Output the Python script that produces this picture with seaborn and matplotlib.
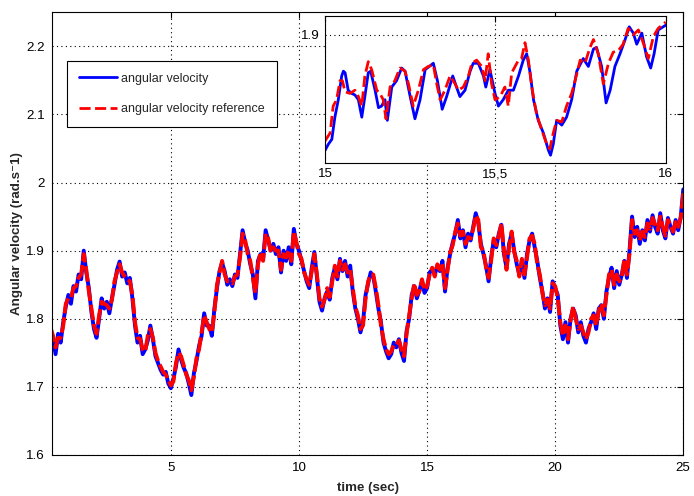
import numpy as np
import matplotlib
matplotlib.use("Agg")
import matplotlib.pyplot as plt
import seaborn as sns

# main signal, sampled every 0.1 s starting at 0.3 s
t_start = 0.3
t_step = 0.1
velocity = [
    1.785, 1.772, 1.748, 1.778, 1.765, 1.795, 1.818,
    1.835, 1.822, 1.848, 1.84, 1.865, 1.858, 1.9, 1.868, 1.845, 1.81,
    1.785, 1.772, 1.8, 1.83, 1.815, 1.825, 1.808, 1.83, 1.85, 1.872,
    1.884, 1.862, 1.868, 1.852, 1.86, 1.83, 1.79, 1.765, 1.775, 1.748,
    1.755, 1.768, 1.79, 1.77, 1.745, 1.735, 1.725, 1.718, 1.722, 1.705,
    1.698, 1.712, 1.73, 1.755, 1.74, 1.728, 1.72, 1.705, 1.688, 1.72,
    1.738, 1.76, 1.775, 1.808, 1.79, 1.79, 1.775, 1.815, 1.845, 1.87,
    1.882, 1.87, 1.85, 1.858, 1.848, 1.865, 1.86, 1.895, 1.93, 1.912,
    1.9, 1.88, 1.865, 1.83, 1.885, 1.895, 1.888, 1.93, 1.915, 1.9,
    1.91, 1.895, 1.905, 1.868, 1.9, 1.885, 1.905, 1.88, 1.932, 1.91,
    1.9, 1.885, 1.87, 1.855, 1.845, 1.875, 1.898, 1.862, 1.825, 1.812,
    1.83, 1.84, 1.828, 1.86, 1.875, 1.858, 1.888, 1.87, 1.885, 1.862,
    1.878, 1.84, 1.815, 1.8, 1.78, 1.795, 1.835, 1.852, 1.868, 1.862,
    1.84, 1.815, 1.795, 1.765, 1.752, 1.742, 1.748, 1.765, 1.758, 1.77,
    1.75, 1.738, 1.782, 1.8, 1.835, 1.848, 1.83, 1.842, 1.855, 1.838,
    1.845, 1.868, 1.872, 1.865, 1.878, 1.87, 1.885, 1.84, 1.875, 1.895,
    1.912, 1.925, 1.945, 1.918, 1.93, 1.905, 1.925, 1.915, 1.935, 1.955,
    1.94, 1.91, 1.895, 1.878, 1.855, 1.89, 1.915, 1.905, 1.925, 1.938,
    1.895, 1.875, 1.91, 1.925, 1.9, 1.88, 1.865, 1.885, 1.86, 1.895,
    1.915, 1.925, 1.905, 1.885, 1.86, 1.84, 1.815, 1.83, 1.81, 1.855,
    1.845, 1.835, 1.79, 1.77, 1.795, 1.765, 1.8, 1.815, 1.805, 1.78,
    1.795, 1.775, 1.765, 1.785, 1.795, 1.808, 1.785, 1.815, 1.82, 1.8,
    1.84, 1.86, 1.875, 1.845, 1.87, 1.85, 1.865, 1.885, 1.86, 1.9,
    1.95, 1.92, 1.935, 1.91, 1.93, 1.915, 1.945, 1.928, 1.952, 1.935,
    1.925, 1.955, 1.93, 1.918, 1.948, 1.935, 1.925, 1.945, 1.93, 1.95,
    1.99,
]
reference = [
    1.788, 1.775, 1.758, 1.772, 1.772, 1.79, 1.822,
    1.83, 1.83, 1.845, 1.848, 1.86, 1.865, 1.895, 1.872, 1.84, 1.815,
    1.79, 1.778, 1.805, 1.825, 1.822, 1.82, 1.815, 1.828, 1.855, 1.868,
    1.88, 1.868, 1.862, 1.858, 1.855, 1.835, 1.795, 1.772, 1.77, 1.755,
    1.752, 1.775, 1.785, 1.772, 1.75, 1.738, 1.73, 1.722, 1.718, 1.71,
    1.702, 1.708, 1.735, 1.75, 1.745, 1.732, 1.718, 1.71, 1.695, 1.715,
    1.742, 1.755, 1.78, 1.805, 1.795, 1.785, 1.78, 1.81, 1.85, 1.868,
    1.885, 1.865, 1.855, 1.855, 1.852, 1.862, 1.865, 1.89, 1.925, 1.915,
    1.895, 1.885, 1.86, 1.838, 1.88, 1.898, 1.885, 1.925, 1.918, 1.898,
    1.905, 1.9, 1.9, 1.872, 1.895, 1.89, 1.9, 1.885, 1.928, 1.912,
    1.895, 1.888, 1.868, 1.858, 1.85, 1.87, 1.895, 1.865, 1.83, 1.818,
    1.828, 1.845, 1.832, 1.855, 1.878, 1.862, 1.885, 1.872, 1.88, 1.868,
    1.872, 1.845, 1.818, 1.805, 1.785, 1.79, 1.83, 1.855, 1.865, 1.865,
    1.845, 1.82, 1.79, 1.77, 1.755, 1.748, 1.752, 1.762, 1.762, 1.768,
    1.755, 1.745, 1.778, 1.805, 1.83, 1.852, 1.835, 1.84, 1.858, 1.842,
    1.848, 1.865, 1.875, 1.862, 1.88, 1.872, 1.882, 1.845, 1.872, 1.898,
    1.908, 1.928, 1.94, 1.922, 1.928, 1.91, 1.92, 1.918, 1.932, 1.952,
    1.945, 1.905, 1.9, 1.875, 1.86, 1.885, 1.918, 1.908, 1.922, 1.94,
    1.9, 1.872, 1.905, 1.928, 1.898, 1.885, 1.862, 1.888, 1.865, 1.89,
    1.918, 1.922, 1.91, 1.88, 1.865, 1.838, 1.82, 1.828, 1.815, 1.852,
    1.848, 1.83, 1.795, 1.775, 1.79, 1.77, 1.798, 1.818, 1.8, 1.785,
    1.79, 1.78, 1.77, 1.78, 1.8, 1.805, 1.79, 1.812, 1.822, 1.805,
    1.835, 1.865, 1.872, 1.85, 1.865, 1.855, 1.862, 1.888, 1.865, 1.895,
    1.945, 1.925, 1.93, 1.915, 1.928, 1.92, 1.94, 1.932, 1.948, 1.938,
    1.93, 1.95, 1.935, 1.922, 1.945, 1.938, 1.928, 1.942, 1.935, 1.948,
    1.985,
]

# zoom between 15 and 16 s
zoom_t_vel = [
    15.000, 15.010, 15.020, 15.029, 15.039, 15.049, 15.054, 15.059, 15.068, 15.078,
    15.088, 15.098, 15.108, 15.117, 15.127, 15.134, 15.147, 15.157, 15.166, 15.176,
    15.183, 15.196, 15.210, 15.225, 15.235, 15.250, 15.264, 15.279, 15.294, 15.318,
    15.330, 15.344, 15.357, 15.375, 15.386, 15.396, 15.411, 15.426, 15.435, 15.450,
    15.465, 15.472, 15.484, 15.499, 15.509, 15.523, 15.538, 15.553, 15.568, 15.582,
    15.592, 15.602, 15.612, 15.626, 15.641, 15.656, 15.662, 15.670, 15.680, 15.695,
    15.709, 15.724, 15.739, 15.758, 15.773, 15.788, 15.797, 15.812, 15.825, 15.837,
    15.851, 15.866, 15.881, 15.893, 15.905, 15.915, 15.930, 15.944, 15.956, 15.966,
    15.978, 16.000,
]
zoom_vel = [
    1.827, 1.831, 1.834, 1.848, 1.859, 1.874, 1.877, 1.876, 1.865, 1.863,
    1.862, 1.859, 1.848, 1.861, 1.876, 1.877, 1.865, 1.854, 1.855, 1.859,
    1.846, 1.867, 1.871, 1.879, 1.877, 1.861, 1.847, 1.859, 1.878, 1.882,
    1.871, 1.853, 1.861, 1.874, 1.867, 1.861, 1.865, 1.877, 1.882, 1.882,
    1.874, 1.867, 1.878, 1.863, 1.855, 1.859, 1.865, 1.865, 1.874, 1.884,
    1.888, 1.876, 1.859, 1.846, 1.838, 1.827, 1.824, 1.831, 1.846, 1.843,
    1.848, 1.859, 1.877, 1.885, 1.880, 1.891, 1.892, 1.880, 1.857, 1.865,
    1.880, 1.888, 1.897, 1.905, 1.901, 1.894, 1.901, 1.886, 1.879, 1.888,
    1.903, 1.906,
]
zoom_t_ref = [
    15.000, 15.015, 15.024, 15.034, 15.044, 15.051, 15.059, 15.073, 15.088, 15.098,
    15.108, 15.117, 15.127, 15.137, 15.152, 15.161, 15.171, 15.179, 15.191, 15.205,
    15.220, 15.235, 15.245, 15.259, 15.274, 15.289, 15.303, 15.318, 15.328, 15.338,
    15.352, 15.367, 15.382, 15.391, 15.406, 15.421, 15.431, 15.445, 15.460, 15.470,
    15.479, 15.489, 15.499, 15.514, 15.528, 15.538, 15.548, 15.558, 15.568, 15.577,
    15.587, 15.597, 15.607, 15.621, 15.636, 15.651, 15.660, 15.670, 15.680, 15.695,
    15.709, 15.724, 15.734, 15.749, 15.763, 15.778, 15.788, 15.802, 15.817, 15.832,
    15.846, 15.861, 15.875, 15.890, 15.905, 15.920, 15.934, 15.949, 15.964, 15.978,
    16.000,
]
zoom_ref = [
    1.833, 1.838, 1.855, 1.859, 1.871, 1.871, 1.864, 1.863, 1.865, 1.861,
    1.855, 1.874, 1.883, 1.878, 1.865, 1.863, 1.859, 1.847, 1.867, 1.871,
    1.879, 1.877, 1.869, 1.855, 1.865, 1.878, 1.880, 1.881, 1.869, 1.859,
    1.865, 1.874, 1.869, 1.865, 1.867, 1.874, 1.882, 1.884, 1.880, 1.871,
    1.888, 1.869, 1.859, 1.861, 1.867, 1.855, 1.876, 1.880, 1.884, 1.885,
    1.895, 1.884, 1.867, 1.850, 1.840, 1.831, 1.828, 1.838, 1.846, 1.845,
    1.855, 1.863, 1.871, 1.884, 1.882, 1.892, 1.897, 1.888, 1.869, 1.882,
    1.889, 1.890, 1.894, 1.904, 1.900, 1.903, 1.895, 1.885, 1.899, 1.904,
    1.908,
]

time = t_start + t_step * np.arange(len(velocity))

sns.set_style("white")
plt.rcParams["font.family"] = ["Liberation Sans", "DejaVu Sans"]
plt.rcParams["font.size"] = 9.6

fig = plt.figure(figsize=(6.94, 4.96), dpi=100)
ax = fig.add_axes([0.0745, 0.0827, 0.9101, 0.8925])

dash = (0, (4, 1.6))
sns.lineplot(x=time, y=velocity, color="#0000ff", lw=2.8, ax=ax, label="angular velocity")
sns.lineplot(x=time, y=reference, color="#ff0000", lw=2.8, ls=(0, (4, 1)), ax=ax,
             label="angular velocity reference")

ax.set_xlim(0.35, 25)
ax.set_ylim(1.6, 2.25)
ax.set_xticks([5, 10, 15, 20, 25])
ax.set_yticks([1.6, 1.7, 1.8, 1.9, 2.0, 2.1, 2.2])
ax.set_yticklabels(["1.6", "1.7", "1.8", "1.9", "2", "2.1", "2.2"])
ax.grid(True, color="k", ls=(0, (1, 3)), lw=0.8)
ax.tick_params(direction="in", top=True, right=True, length=4, width=0.8,
               labelsize=9.6, colors="k", pad=5)
for s in ax.spines.values():
    s.set_color("k")
    s.set_linewidth(0.8)
ax.set_xlabel("time (sec)", fontweight="bold", fontsize=9.6, labelpad=6)
ax.set_ylabel("Angular velocity (rad.s\u207b1)", fontweight="bold", fontsize=9.6, labelpad=2)

leg = ax.legend(loc="upper left", bbox_to_anchor=(0.024, 0.89), fontsize=9,
                frameon=True, fancybox=False, framealpha=1, edgecolor="k",
                handlelength=3.1, handletextpad=0.3, labelspacing=1.45,
                borderpad=0.95, borderaxespad=0)
leg.get_frame().set_linewidth(0.8)
for h in leg.get_lines():
    h.set_linewidth(2)
leg.get_lines()[1].set_linestyle(dash)

# inset
axi = fig.add_axes([0.4683, 0.672, 0.4909, 0.2957])
axi.set_facecolor("white")
sns.lineplot(x=zoom_t_vel, y=zoom_vel, color="#0000ff", lw=2, ax=axi, legend=False)
sns.lineplot(x=zoom_t_ref, y=zoom_ref, color="#ff0000", lw=2, ls=dash, ax=axi, legend=False)
axi.set_xlim(15, 16)
axi.set_ylim(1.8193, 1.9118)
axi.set_xticks([15, 15.5, 16])
axi.set_xticklabels(["15", "15,5", "16"])
axi.set_yticks([1.9])
axi.set_yticklabels(["1.9"])
axi.grid(True, color="k", ls=(0, (1, 3)), lw=0.8)
axi.tick_params(direction="in", top=True, right=True, length=4, width=0.8,
                labelsize=9.6, colors="k", pad=4)
for s in axi.spines.values():
    s.set_color("k")
    s.set_linewidth(0.8)
axi.set_xlabel("")
axi.set_ylabel("")

fig.savefig("out.png", dpi=100)
